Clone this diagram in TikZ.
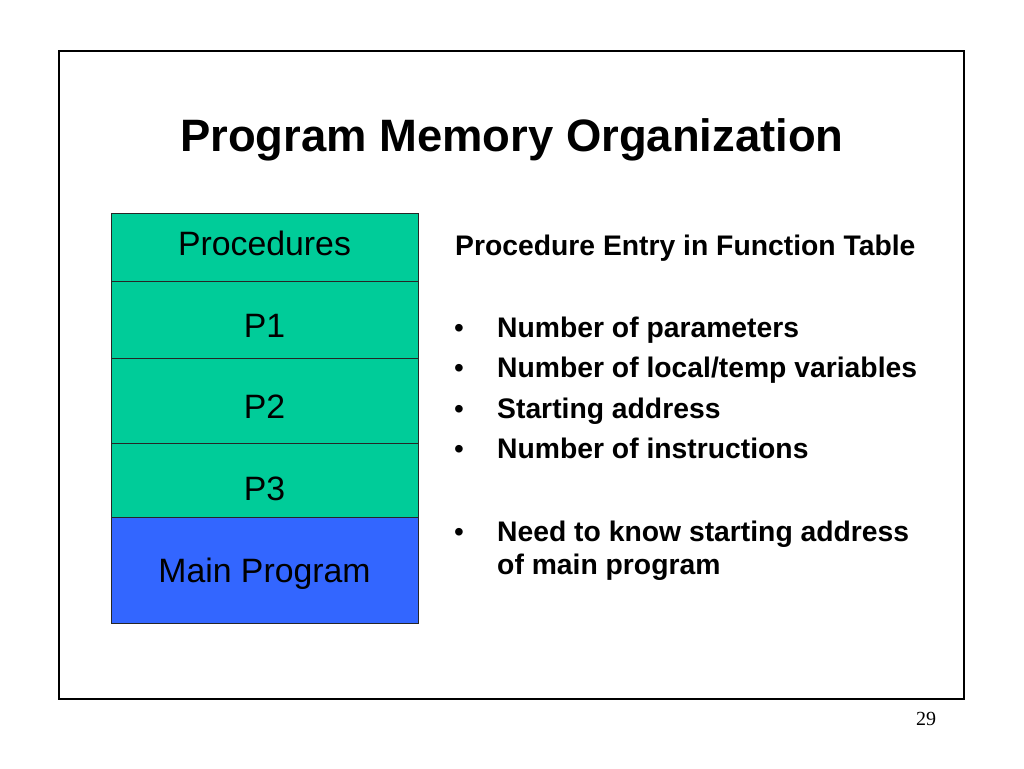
\documentclass[tikz,border=0pt]{standalone}
\usepackage{fontspec}
\setmainfont{Liberation Serif}
\setsansfont{Liberation Sans}
\definecolor{procgreen}{HTML}{00CC99}
\definecolor{mainblue}{HTML}{3366FF}
\begin{document}
\begin{tikzpicture}[x=1pt,y=-1pt,
  frame/.style={draw=black,line width=1.6pt},
  memblock/.style={draw=black!85,line width=0.8pt,minimum width=307pt,inner sep=0pt,anchor=north west},
  blocktext/.style={font=\sffamily\fontsize{33.8}{38}\selectfont,anchor=base,inner sep=0pt},
  titletext/.style={font=\sffamily\bfseries\fontsize{45.4}{52}\selectfont,anchor=base,inner sep=0pt},
  bodytext/.style={font=\sffamily\bfseries\fontsize{28.3}{33}\selectfont,anchor=base west,inner sep=0pt},
  bulletmark/.style={font=\sffamily\fontsize{28}{33}\selectfont,anchor=base,inner sep=0pt}
]
\useasboundingbox (0,0) rectangle (1024,768);
\fill[white] (0,0) rectangle (1024,768);
\draw[frame] (59,51) rectangle (964,699);

\node[titletext] (title) at (512,151) {Program Memory Organization};

% memory blocks
\node[memblock,fill=procgreen,minimum height=68pt] (procs) at (111,213) {};
\node[memblock,fill=procgreen,minimum height=77pt] (p1) at (111,281) {};
\node[memblock,fill=procgreen,minimum height=85pt] (p2) at (111,358) {};
\node[memblock,fill=procgreen,minimum height=74pt] (p3) at (111,443) {};
\node[memblock,fill=mainblue,minimum height=106pt] (mainp) at (111,517) {};

\node[blocktext] (tprocs) at (264.5,255) {Procedures};
\node[blocktext] (tp1) at (264.5,337) {P1};
\node[blocktext] (tp2) at (264.5,418) {P2};
\node[blocktext] (tp3) at (264.5,500) {P3};
\node[blocktext] (tmain) at (264.5,582) {Main Program};

% right text
\node[bodytext] (head) at (455,255) {Procedure Entry in Function Table};
\node[bulletmark] (b1) at (459,337) {•};
\node[bodytext] (l1) at (497,337) {Number of parameters};
\node[bulletmark] (b2) at (459,377) {•};
\node[bodytext] (l2) at (497,377) {Number of local/temp variables};
\node[bulletmark] (b3) at (459,418) {•};
\node[bodytext] (l3) at (497,418) {Starting address};
\node[bulletmark] (b4) at (459,458) {•};
\node[bodytext] (l4) at (497,458) {Number of instructions};
\node[bulletmark] (b5) at (459,541) {•};
\node[bodytext] (l5) at (497,541) {Need to know starting address};
\node[bodytext] (l6) at (497,574) {of main program};

\node[font=\fontsize{20}{24}\selectfont,anchor=base,inner sep=0pt] (pagenum) at (926,725) {29};
\end{tikzpicture}
\end{document}
